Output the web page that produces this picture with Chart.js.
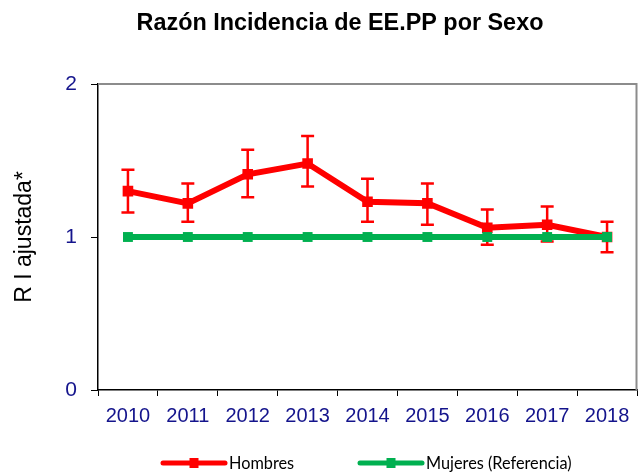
<!DOCTYPE html>
<html>
<head>
<meta charset="utf-8">
<script src="https://cdn.jsdelivr.net/npm/chart.js@4.4.1/dist/chart.umd.min.js"></script>
<style>
  html, body { margin: 0; padding: 0; background: #ffffff; }
  #wrap { width: 638px; height: 472px; position: relative; }
</style>
</head>
<body>
<div id="wrap"><canvas id="c" width="638" height="472"></canvas></div>
<script>
// ---- data ----
const years = ['2010', '2011', '2012', '2013', '2014', '2015', '2016', '2017', '2018'];
const hombres = [1.30, 1.22, 1.41, 1.48, 1.23, 1.22, 1.06, 1.08, 1.00];
const hombresLow = [1.16, 1.10, 1.26, 1.33, 1.10, 1.08, 0.95, 0.97, 0.90];
const hombresHigh = [1.44, 1.35, 1.57, 1.66, 1.38, 1.35, 1.18, 1.20, 1.10];
const mujeres = [1, 1, 1, 1, 1, 1, 1, 1, 1];
const yTickValues = [0, 1, 2];
const seriesNames = ['Hombres', 'Mujeres (Referencia)'];
const titleText = 'Razón Incidencia de EE.PP por Sexo';
const yTitleText = 'R I ajustada*';

const RED = '#ff0000';
const GREEN = '#00b050';
const NAVY = '#14148c';
const FONT = "'Liberation Sans', Arial, sans-serif";

const errorBars = {
  id: 'errorBars',
  beforeDatasetsDraw(chart) {
    const ctx = chart.ctx;
    const ys = chart.scales.y;
    const meta = chart.getDatasetMeta(0);
    ctx.save();
    ctx.strokeStyle = RED;
    ctx.lineWidth = 2.5;
    meta.data.forEach((pt, i) => {
      const x = pt.x;
      const yl = ys.getPixelForValue(hombresLow[i]);
      const yh = ys.getPixelForValue(hombresHigh[i]);
      ctx.beginPath();
      ctx.moveTo(x, yl); ctx.lineTo(x, yh);
      ctx.moveTo(x - 6.5, yl); ctx.lineTo(x + 6.5, yl);
      ctx.moveTo(x - 6.5, yh); ctx.lineTo(x + 6.5, yh);
      ctx.stroke();
    });
    // gray frame top/right
    const a = chart.chartArea;
    ctx.strokeStyle = '#8c8c8c';
    ctx.lineWidth = 2;
    ctx.beginPath();
    ctx.moveTo(a.left, a.top);
    ctx.lineTo(a.right - 0.5, a.top);
    ctx.lineTo(a.right - 0.5, a.bottom);
    ctx.stroke();
    ctx.restore();
  }
};

const decorations = {
  id: 'decorations',
  afterDraw(chart) {
    const ctx = chart.ctx;
    ctx.save();
    // title
    ctx.fillStyle = '#000';
    ctx.font = "bold 23.4px " + FONT;
    ctx.textAlign = 'center';
    ctx.textBaseline = 'alphabetic';
    ctx.fillText(titleText, 340, 30);
    // legend
    const items = [
      { color: RED, x0: 163, x1: 225, label: seriesNames[0] },
      { color: GREEN, x0: 360, x1: 422, label: seriesNames[1] }
    ];
    const ly = 463;
    items.forEach(it => {
      ctx.strokeStyle = it.color;
      ctx.lineWidth = 5;
      ctx.lineCap = 'round';
      ctx.beginPath();
      ctx.moveTo(it.x0, ly); ctx.lineTo(it.x1, ly);
      ctx.stroke();
      ctx.fillStyle = it.color;
      const mx = (it.x0 + it.x1) / 2;
      ctx.fillRect(mx - 4.5, ly - 5, 9, 10);
      ctx.fillStyle = '#000';
      ctx.font = "16.3px Lato, 'Open Sans', sans-serif";
      ctx.textAlign = 'left';
      ctx.fillText(it.label, it.x1 + 4, 469);
    });
    ctx.restore();
  }
};

new Chart(document.getElementById('c'), {
  type: 'line',
  data: {
    labels: years,
    datasets: [
      {
        label: seriesNames[0],
        data: hombres,
        borderColor: RED,
        backgroundColor: RED,
        borderWidth: 6,
        pointStyle: 'rect',
        pointRadius: 7.5,
        pointBorderWidth: 0,
        pointBackgroundColor: RED,
        tension: 0,
        order: 1
      },
      {
        label: seriesNames[1],
        data: mujeres,
        borderColor: GREEN,
        backgroundColor: GREEN,
        borderWidth: 6,
        pointStyle: 'rect',
        pointRadius: 7,
        pointBorderWidth: 0,
        pointBackgroundColor: GREEN,
        tension: 0,
        order: 0
      }
    ]
  },
  options: {
    responsive: false,
    animation: false,
    devicePixelRatio: 1,
    layout: { autoPadding: false, padding: { top: 84, right: 1, bottom: 0, left: 0 } },
    plugins: {
      legend: { display: false },
      title: { display: false },
      tooltip: { enabled: false }
    },
    scales: {
      x: {
        type: 'category',
        offset: true,
        grid: {
          offset: true,
          drawOnChartArea: false,
          drawTicks: true,
          tickLength: 6,
          color: '#000'
        },
        border: { display: true, color: '#000', width: 1.5 },
        ticks: {
          color: NAVY,
          font: { family: FONT, size: 20 },
          padding: 8,
          maxRotation: 0,
          autoSkip: false
        },
        afterFit(scale) {
          scale.height = 82;
          scale.paddingLeft = 0;
          scale.paddingRight = 0;
        }
      },
      y: {
        min: 0,
        max: 2,
        afterBuildTicks(scale) { scale.ticks = yTickValues.map(v => ({ value: v })); },
        grid: {
          drawOnChartArea: false,
          drawTicks: true,
          tickLength: 7,
          color: '#000'
        },
        border: { display: true, color: '#000', width: 1.5 },
        ticks: {
          color: NAVY,
          font: { family: FONT, size: 21 },
          padding: 14
        },
        title: {
          display: true,
          text: yTitleText,
          color: '#000',
          font: { family: FONT, size: 23 },
          padding: { top: 11, bottom: 0 }
        },
        afterFit(scale) {
          scale.width = 98;
          scale.paddingTop = 0;
          scale.paddingBottom = 0;
        }
      }
    }
  },
  plugins: [errorBars, decorations]
});
</script>
</body>
</html>
